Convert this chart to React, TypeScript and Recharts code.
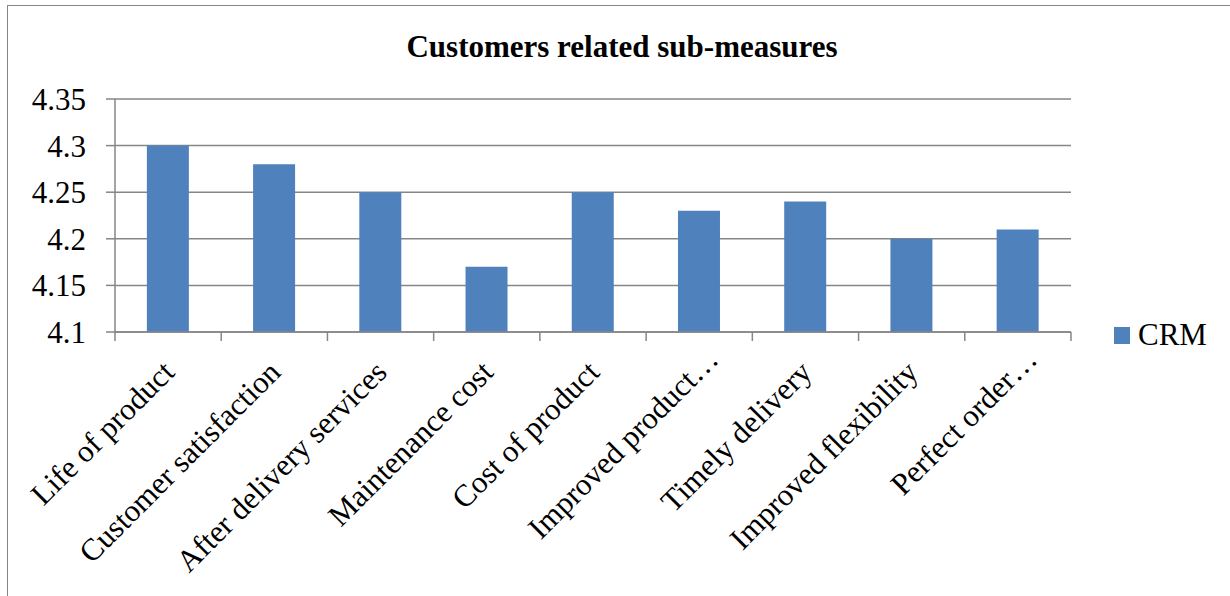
import React from "react";
import { BarChart, Bar, XAxis, YAxis, CartesianGrid, Legend } from "recharts";

const categories = [
  "Life of product",
  "Customer satisfaction",
  "After delivery services",
  "Maintenance cost",
  "Cost of product",
  "Improved product…",
  "Timely delivery",
  "Improved flexibility",
  "Perfect order…",
];
const crmValues = [4.3, 4.28, 4.25, 4.17, 4.25, 4.23, 4.24, 4.2, 4.21];
const yTicks = [4.1, 4.15, 4.2, 4.25, 4.3, 4.35];

const FONT = "'Liberation Serif', 'Times New Roman', serif";
const GRID = "#868686";
const BLUE = "#4F81BD";

const data = categories.map((name, i) => ({ name, CRM: crmValues[i] }));

function CategoryTick(props: any) {
  const { x, y, payload, index, width } = props;
  const band = (width || 956) / categories.length;
  // excel pushes the truncated labels a bit further along the slant
  const cut = String(payload.value).endsWith("…") ? 13 : 0;
  const ax = x + 8 + cut;
  const ay = y + 42 - cut;
  const left = x - band / 2;
  return (
    <g>
      <line x1={left} x2={left} y1={y} y2={y + 9} stroke={GRID} strokeWidth={1.5} />
      {index === categories.length - 1 && (
        <line x1={left + band} x2={left + band} y1={y} y2={y + 9} stroke={GRID} strokeWidth={1.5} />
      )}
      <text
        x={ax}
        y={ay}
        transform={`rotate(-45, ${ax}, ${ay})`}
        textAnchor="end"
        fontFamily={FONT}
        fontSize={31}
        style={{ fontFamily: FONT, fontSize: 31 }}
        fill="#000"
      >
        {payload.value}
      </text>
    </g>
  );
}

function ValueTick(props: any) {
  const { x, y, payload } = props;
  return (
    <text
      x={x}
      y={y}
      dy={11}
      textAnchor="end"
      fontFamily={FONT}
      fontSize={31}
      style={{ fontFamily: FONT, fontSize: 31 }}
      fill="#000"
    >
      {String(payload.value)}
    </text>
  );
}

function LegendBox() {
  return (
    <div style={{ display: "flex", alignItems: "center", height: 34, fontFamily: FONT }}>
      <span style={{ width: 16, height: 17, background: BLUE, marginRight: 8, display: "inline-block" }} />
      <span style={{ fontFamily: FONT, fontSize: 31, lineHeight: "34px", color: "#000" }}>CRM</span>
    </div>
  );
}

export default function App() {
  return (
    <div
      style={{
        position: "absolute",
        left: 0,
        top: 0,
        width: 1230,
        height: 596,
        overflow: "hidden",
        background: "#fff",
        fontFamily: FONT,
      }}
    >
      <div
        style={{
          position: "absolute",
          left: 7,
          top: 5,
          width: 1300,
          height: 700,
          border: `1.5px solid ${GRID}`,
        }}
      />
      <div
        style={{
          position: "absolute",
          left: 0,
          top: 30,
          width: 1244,
          textAlign: "center",
          fontFamily: FONT,
          fontWeight: "bold",
          fontSize: 31,
          lineHeight: "34px",
        }}
      >
        Customers related sub-measures
      </div>
      <BarChart
        width={1230}
        height={596}
        data={data}
        margin={{ top: 99, right: 159, left: 15, bottom: 30 }}
        barCategoryGap="30%"
        style={{ fontFamily: FONT }}
      >
        <CartesianGrid vertical={false} stroke={GRID} strokeWidth={1.5} />
        <XAxis
          dataKey="name"
          height={200}
          interval={0}
          axisLine={{ stroke: GRID, strokeWidth: 1.5 }}
          tickLine={false}
          tickSize={0}
          tickMargin={0}
          tick={<CategoryTick />}
        />
        <YAxis
          width={100}
          domain={[4.1, 4.35]}
          ticks={yTicks}
          interval={0}
          allowDataOverflow
          tickSize={9}
          tickMargin={20}
          tickLine={{ stroke: GRID, strokeWidth: 1.5 }}
          axisLine={{ stroke: GRID, strokeWidth: 1.5 }}
          tick={<ValueTick />}
        />
        <Legend
          content={() => <LegendBox />}
          wrapperStyle={{ position: "absolute", left: 1114, top: 318, width: "auto", fontFamily: FONT }}
        />
        <Bar dataKey="CRM" fill={BLUE} isAnimationActive={false} />
      </BarChart>
    </div>
  );
}
